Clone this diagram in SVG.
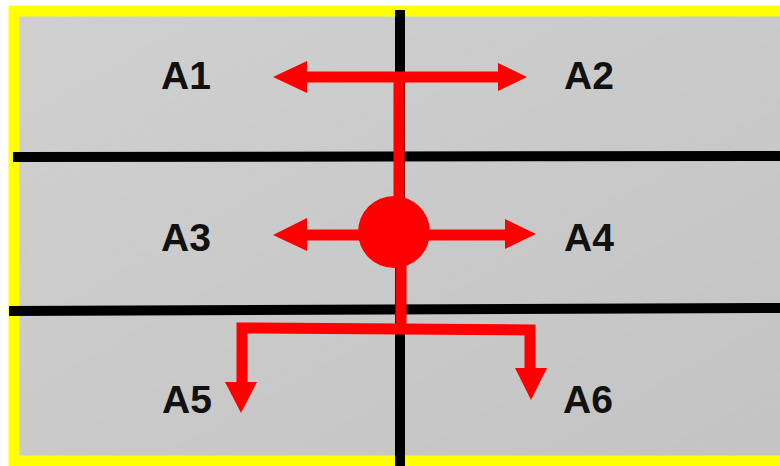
<svg xmlns="http://www.w3.org/2000/svg" width="780" height="466" viewBox="0 0 780 466">
  <style>
    .lbl { font-family: "Liberation Sans", Arial, sans-serif; font-weight: bold; font-size: 39px; fill: #111; }
    .grid { stroke: #000; stroke-width: 10; fill: none; }
    .red { stroke: #ff0000; stroke-width: 11; fill: none; }
    .head { fill: #ff0000; }
  </style>
  <defs>
    <linearGradient id="bg" x1="0" y1="0" x2="1" y2="1">
      <stop offset="0" stop-color="#d0d0d0"/>
      <stop offset="1" stop-color="#c3c3c3"/>
    </linearGradient>
  </defs>
  <rect x="0" y="0" width="780" height="466" fill="#ffffff"/>
  <!-- frame -->
  <rect x="14" y="11" width="800" height="450" fill="url(#bg)" stroke="#ffff00" stroke-width="11"/>
  <!-- grid lines -->
  <g id="grid">
    <line class="grid" x1="13" y1="157" x2="780" y2="156"/>
    <line class="grid" x1="9" y1="311" x2="780" y2="308"/>
    <line class="grid" x1="400" y1="10" x2="400" y2="466"/>
  </g>
  <!-- connectors -->
  <g id="connectors">
    <!-- top T -->
    <line class="red" x1="300" y1="77" x2="505" y2="77"/>
    <polygon class="head" points="273,77 307,61 307,93"/>
    <polygon class="head" points="527,77 498,63 498,91"/>
    <line class="red" x1="399" y1="72" x2="399" y2="232" stroke-width="13"/>
    <!-- middle -->
    <line class="red" x1="300" y1="235" x2="515" y2="235"/>
    <polygon class="head" points="273,235 307,218 307,251"/>
    <polygon class="head" points="536,234 505,219 505,249"/>
    <circle cx="394" cy="232" r="36" fill="#ff0000"/>
    <!-- bottom fork -->
    <line class="red" x1="401" y1="260" x2="401" y2="333" stroke-width="12"/>
    <polyline class="red" points="242,388 242,328 530,330 530,375"/>
    <polygon class="head" points="225,382 257,382 241,413"/>
    <polygon class="head" points="515,368 547,368 531,400"/>
  </g>
  <!-- nodes -->
  <g id="A1"><text class="lbl" x="161" y="89">A1</text></g>
  <g id="A2"><text class="lbl" x="564" y="89">A2</text></g>
  <g id="A3"><text class="lbl" x="161" y="251">A3</text></g>
  <g id="A4"><text class="lbl" x="564" y="251">A4</text></g>
  <g id="A5"><text class="lbl" x="162" y="413">A5</text></g>
  <g id="A6"><text class="lbl" x="563" y="413">A6</text></g>
</svg>
